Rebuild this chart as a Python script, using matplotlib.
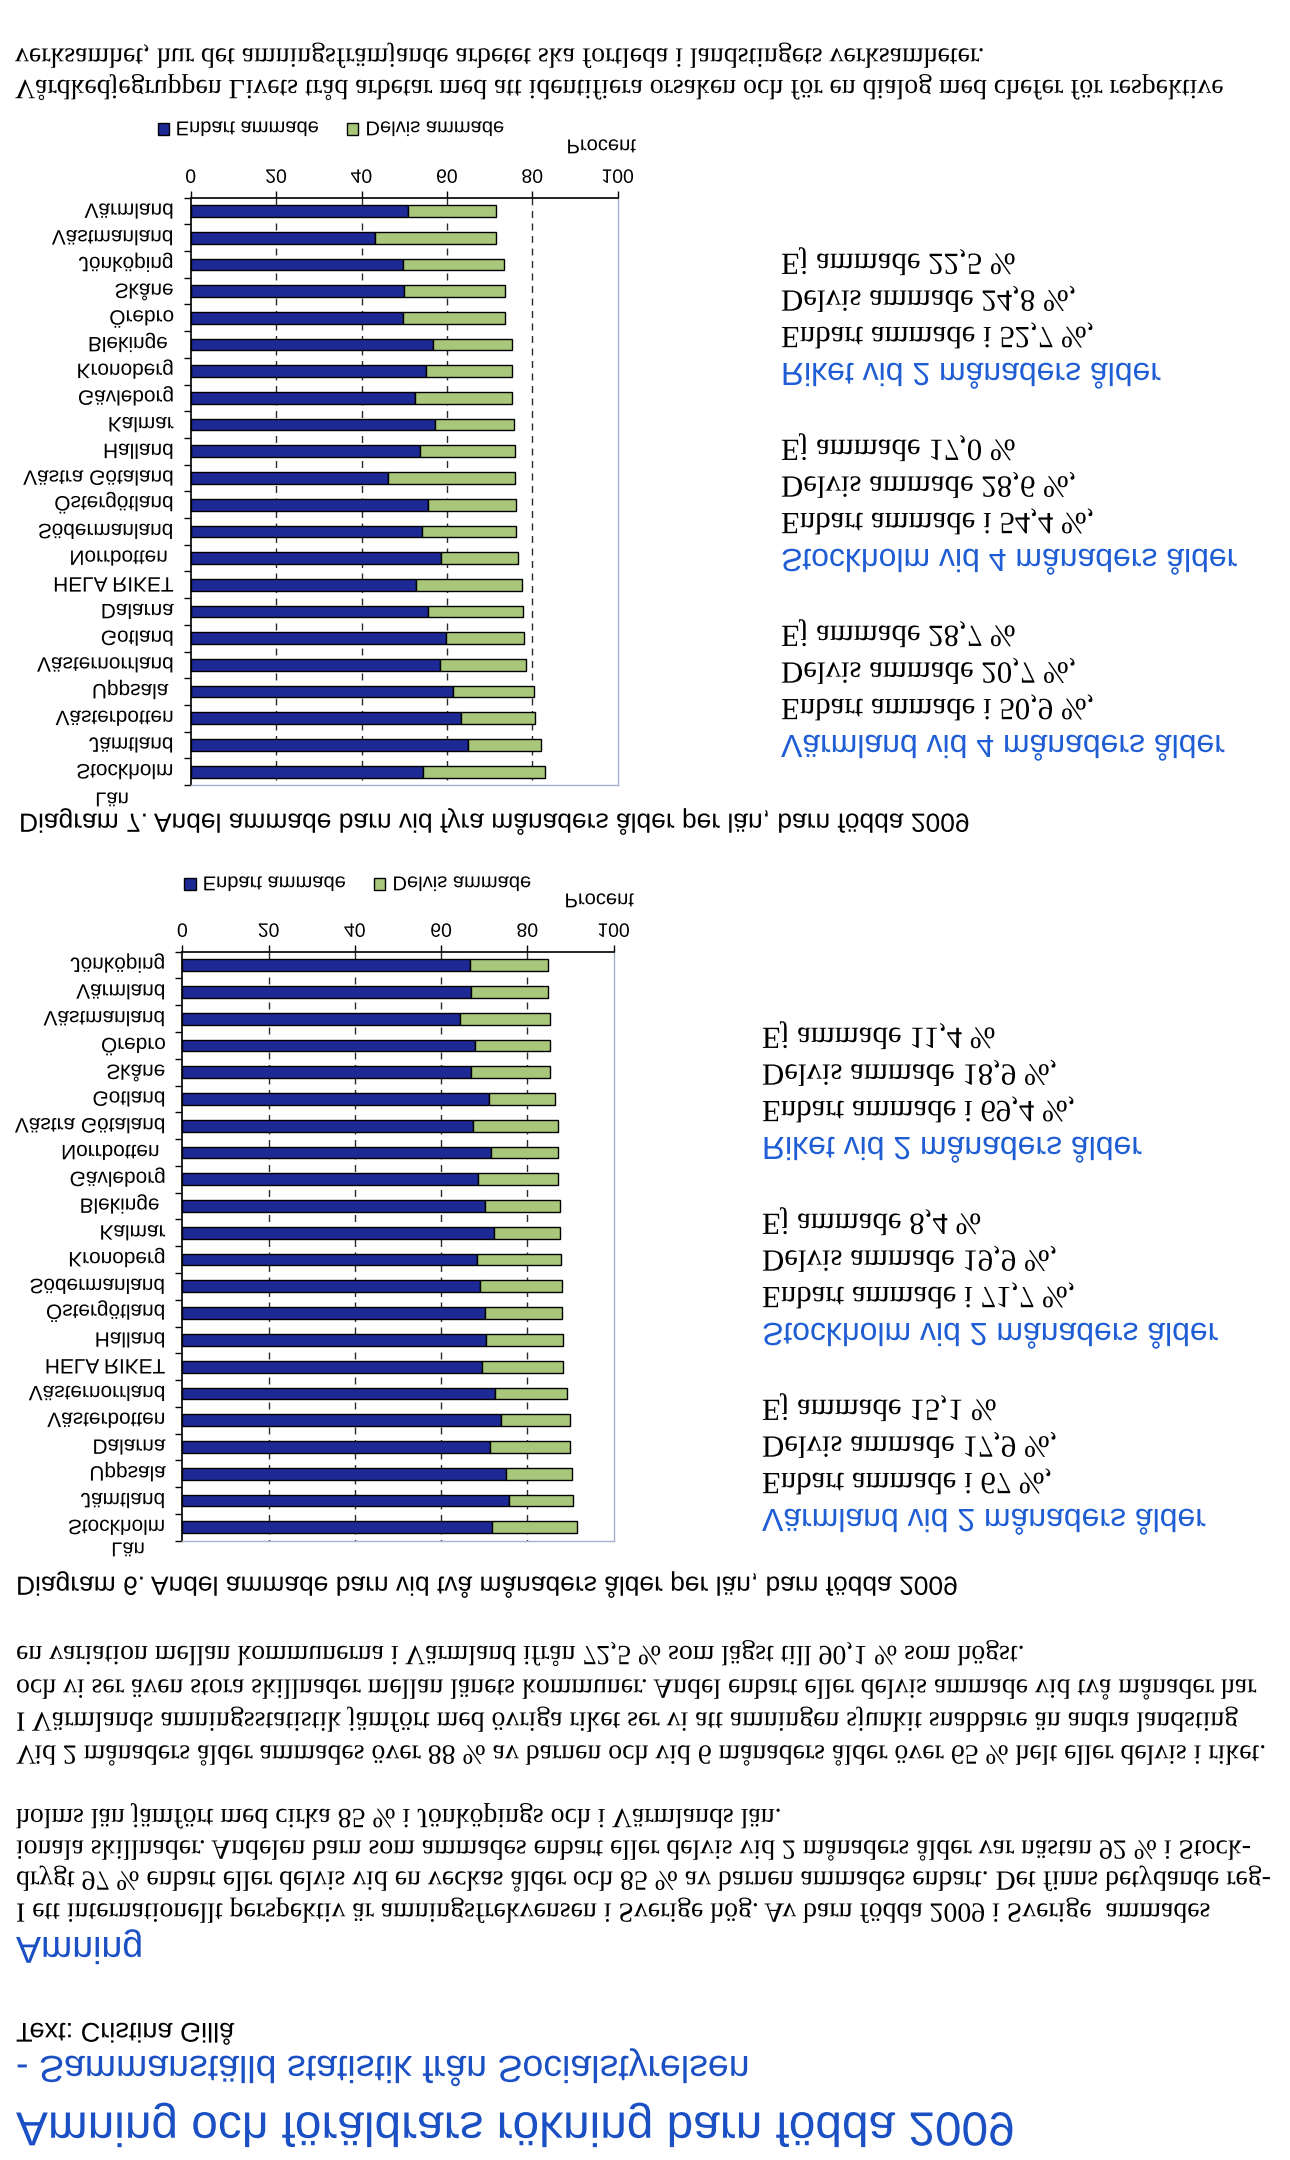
"""
Amning - scannad sida (upp och ner), återskapad med matplotlib.
Sidan ritas i vanlig ordning och speglas vertikalt vid ritning via en path effect.
"""
import matplotlib
matplotlib.use('Agg')
import matplotlib.pyplot as plt
from matplotlib.patheffects import AbstractPathEffect
from matplotlib.transforms import Affine2D

W, H = 1290, 2160

# ---- data ----
# Diagram 7: fyra månaders ålder (nerifrån och upp i diagrammet)
lan_4m = ["Värmland", "Västmanland", "Jönköping", "Skåne", "Örebro", "Blekinge ",
          "Kronoberg", "Gävleborg", "Kalmar", "Halland", "Västra Götaland",
          "Östergötland", "Södermanland", "Norrbotten ", "HELA RIKET", "Dalarna",
          "Gotland", "Västernorrland", "Uppsala ", "Västerbotten", "Jämtland", "Stockholm"]
enbart_4m = [50.9, 43.2, 49.7, 50.0, 49.7, 56.8, 55.1, 52.6, 57.3, 53.6, 46.1,
             55.6, 54.1, 58.7, 52.7, 55.5, 59.9, 58.5, 61.4, 63.4, 64.9, 54.4]
delvis_4m = [20.7, 28.4, 23.6, 23.6, 23.9, 18.4, 20.1, 22.6, 18.4, 22.4, 29.9,
             20.6, 22.1, 18.0, 24.8, 22.4, 18.1, 20.1, 18.9, 17.2, 17.1, 28.6]

# Diagram 6: två månaders ålder
lan_2m = ["Jönköping", "Värmland", "Västmanland", "Örebro", "Skåne", "Gotland",
          "Västra Götaland", "Norrbotten ", "Gävleborg", "Blekinge ", "Kalmar",
          "Kronoberg", "Södermanland", "Östergötland", "Halland", "HELA RIKET",
          "Västernorrland", "Västerbotten", "Dalarna", "Uppsala", "Jämtland", "Stockholm"]
enbart_2m = [66.6, 67.0, 64.4, 67.8, 67.0, 71.2, 67.3, 71.6, 68.6, 70.2, 72.3,
             68.3, 69.0, 70.2, 70.4, 69.4, 72.4, 74.0, 71.3, 75.0, 75.8, 71.7]
delvis_2m = [18.2, 17.9, 20.9, 17.5, 18.3, 15.1, 19.7, 15.6, 18.6, 17.3, 15.2,
             19.4, 19.0, 17.8, 17.9, 18.9, 16.8, 15.9, 18.6, 15.4, 14.9, 19.9]

x_ticks = [0, 20, 40, 60, 80, 100]
legend_labels = ["Enbart ammade", "Delvis ammade"]

side_4m = [
    ["Värmland vid 4 månaders ålder", "Enbart ammade i 50,9 %,", "Delvis ammade 20,7 %,", "Ej ammade 28,7 %"],
    ["Stockholm vid 4 månaders ålder", "Enbart ammade i 54,4 %,", "Delvis ammade 28,6 %,", "Ej ammade 17,0 %"],
    ["Riket vid 2 månaders ålder", "Enbart ammade i 52,7 %,", "Delvis ammade 24,8 %,", "Ej ammade 22,5 %"],
]
side_2m = [
    ["Värmland vid 2 månaders ålder", "Enbart ammade i 67 %,", "Delvis ammade 17,9 %,", "Ej ammade 15,1 %"],
    ["Stockholm vid 2 månaders ålder", "Enbart ammade i 71,7 %,", "Delvis ammade 19,9 %,", "Ej ammade 8,4 %"],
    ["Riket vid 2 månaders ålder", "Enbart ammade i 69,4 %,", "Delvis ammade 18,9 %,", "Ej ammade 11,4 %"],
]

title = "Amning och föräldrars rökning barn födda 2009"
subtitle = "- Sammanställd statistik från Socialstyrelsen"
byline = "Text: Cristina Gillå"
heading = "Amning"
para1 = [
    "I ett internationellt perspektiv är amningsfrekvensen i Sverige hög. Av barn födda 2009 i Sverige  ammades",
    "drygt 97 % enbart eller delvis vid en veckas ålder och 85 % av barnen ammades enbart. Det finns betydande reg-",
    "ionala skillnader. Andelen barn som ammades enbart eller delvis vid 2 månaders ålder var nästan 92 % i Stock-",
    "holms län jämfört med cirka 85 % i Jönköpings och i Värmlands län.",
]
para2 = [
    "Vid 2 månaders ålder ammades över 88 % av barnen och vid 6 månaders ålder över 65 % helt eller delvis i riket.",
    "I Värmlands amningsstatistik jämfört med övriga riket ser vi att amningen sjunkit snabbare än andra landsting",
    "och vi ser även stora skillnader mellan länets kommuner. Andel enbart eller delvis ammade vid två månader har",
    "en variation mellan kommunerna i Värmland ifrån 72,5 % som lägst till 90,1 % som högst.",
]
para3 = [
    "Vårdkedjegruppen Livets tråd arbetar med att identifiera orsaken och för en dialog med chefer för respektive",
    "verksamhet, hur det amningsfrämjande arbetet ska fortleda i landstingets verksamheter.",
]
caption_6 = "Diagram 6. Andel ammade barn vid två månaders ålder per län, barn födda 2009"
caption_7 = "Diagram 7. Andel ammade barn vid fyra månaders ålder per län, barn födda 2009"

BLUE_BAR = '#1d2a96'
GREEN_BAR = '#a8c77a'
TITLE_BLUE = '#1a50c4'
HEAD_BLUE = '#1f5dd4'


class PageFlip(AbstractPathEffect):
    """Speglar allt som ritas vertikalt (sidan är skannad upp och ner)."""

    def __init__(self, sx=1.0):
        super().__init__()
        self.sx = sx

    def draw_path(self, renderer, gc, tpath, affine, rgbFace=None):
        gc0 = renderer.new_gc()
        gc0.copy_properties(gc)
        gc0.set_clip_rectangle(None)
        gc0.set_clip_path(None)
        flip = Affine2D().scale(1, -1).translate(0, renderer.height)
        renderer.draw_path(gc0, tpath, Affine2D().scale(self.sx, 1) + affine + flip, rgbFace)
        gc0.restore()


plt.rcParams['font.family'] = 'Liberation Sans'
plt.rcParams['path.effects'] = [PageFlip()]

fig = plt.figure(figsize=(W / 100, H / 100), dpi=100)
fig.patch.set_facecolor('white')


def put(x, y, s, size, family='Liberation Serif', color='black', ha='left', sx=1.0):
    t = fig.text(x / W, y / H, s, fontsize=size, family=family, color=color,
                 ha=ha, va='center')
    if sx != 1.0:
        t.set_path_effects([PageFlip(sx)])
    return t


def draw_chart(box, lan, enbart, delvis, legend_at, procent_at, lan_at):
    x0, y0, x1, y1 = box
    ax = fig.add_axes([x0 / W, y0 / H, (x1 - x0) / W, (y1 - y0) / H])
    pos = list(range(len(lan)))
    ax.barh(pos, enbart, height=0.44, color=BLUE_BAR, edgecolor='black',
            linewidth=1.0, label=legend_labels[0], zorder=3)
    ax.barh(pos, delvis, left=enbart, height=0.44, color=GREEN_BAR, edgecolor='black',
            linewidth=1.0, label=legend_labels[1], zorder=3)
    ax.set_xlim(0, 100)
    ax.set_ylim(-0.5, len(lan) - 0.5)
    ax.set_xticks(x_ticks)
    ax.set_yticks(pos, lan)
    ax.set_yticks([p - 0.5 for p in pos] + [len(lan) - 0.5], minor=True)
    ax.tick_params(axis='y', which='major', length=0, pad=12, labelsize=15)
    ax.tick_params(axis='y', which='minor', length=5, width=1, direction='out')
    ax.tick_params(axis='x', length=5, width=1, pad=6, labelsize=14)
    ax.grid(True, axis='x', linestyle=(0, (5, 4)), color='#2a2a2a', linewidth=1.0, zorder=1)
    ax.get_xgridlines()[0].set_visible(False)
    ax.get_xgridlines()[-1].set_visible(False)
    ax.set_axisbelow(True)
    for side in ('left', 'bottom'):
        ax.spines[side].set_color('#111111')
        ax.spines[side].set_linewidth(1.3)
    for side in ('top', 'right'):
        ax.spines[side].set_color('#a4b2cc')
        ax.spines[side].set_linewidth(1.0)
    ax.legend(loc='center left', bbox_to_anchor=(legend_at[0] / W, legend_at[1] / H),
              bbox_transform=fig.transFigure, ncol=2, frameon=False, fontsize=14.5,
              handlelength=0.55, handleheight=0.55, handletextpad=0.35,
              columnspacing=1.4, borderpad=0, borderaxespad=0)
    put(procent_at[0], procent_at[1], "Procent", 14.5, family='Liberation Sans', ha='right')
    put(lan_at[0], lan_at[1], "Län", 14.5, family='Liberation Sans', ha='center')
    return ax


def side_text(x, y_top, blocks):
    for k, block in enumerate(blocks):
        yb = y_top - 186 * k
        put(x, yb, block[0], 23, family='Liberation Sans', color=HEAD_BLUE)
        for j, line in enumerate(block[1:]):
            put(x, yb - 36.5 * (j + 1), line, 22.2, family='Liberation Serif')


# ---- sidhuvud och brödtext ----
put(16, 2125, title, 34.4, family='Liberation Sans', color=TITLE_BLUE)
put(16, 2068, subtitle, 27, family='Liberation Sans', color=TITLE_BLUE)
put(16, 2030, byline, 19.5, family='Liberation Sans')
put(16, 1947, heading, 27, family='Liberation Sans', color=TITLE_BLUE)
for i, line in enumerate(para1):
    put(16, 1910 - 31.5 * i, line, 20)
for i, line in enumerate(para2):
    put(16, 1752 - 33 * i, line, 20)
put(16, 1585, caption_6, 19, family='Liberation Sans')

# ---- Diagram 6 ----
draw_chart((182.4, 951.7, 613.6, 1540.7), lan_2m, enbart_2m, delvis_2m,
           legend_at=(184.5, 882), procent_at=(634, 899), lan_at=(128, 1548))
side_text(762, 1517, side_2m)

# ---- Diagram 7 ----
put(19, 822, caption_7, 19, family='Liberation Sans')
draw_chart((190.7, 197.7, 617.7, 785), lan_4m, enbart_4m, delvis_4m,
           legend_at=(157.5, 127), procent_at=(636, 145), lan_at=(112, 798))
side_text(781, 743, side_4m)

for i, line in enumerate(para3):
    put(15, 87 - 32 * i, line, 20)

fig.savefig('out.png', dpi=100, facecolor='white')
